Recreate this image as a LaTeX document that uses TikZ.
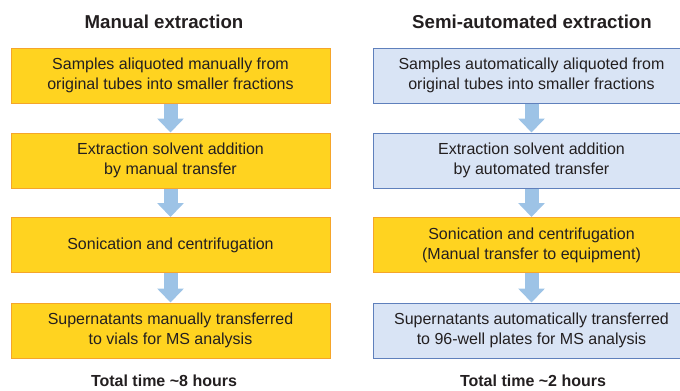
\documentclass[tikz,border=0pt]{standalone}
\usepackage{fontspec}
\setmainfont{Liberation Sans}
\usepackage{tikz}
\usetikzlibrary{arrows.meta, positioning}
\definecolor{manfill}{HTML}{FFD320}
\definecolor{manline}{HTML}{F5A52A}
\definecolor{autofill}{HTML}{D9E4F5}
\definecolor{autoline}{HTML}{5F80BC}
\definecolor{arrowfill}{HTML}{9DC3E6}
\definecolor{txt}{HTML}{231F20}
\tikzset{
  manblk/.style = {rectangle, draw=manline, fill=manfill, line width=0.75pt,
                   align=center, text=txt, font=\fontsize{12}{15}\selectfont,
                   minimum width=239.25pt, minimum height=41.25pt, inner sep=2pt},
  autoblk/.style= {rectangle, draw=autoline, fill=autofill, line width=0.75pt,
                   align=center, text=txt, font=\fontsize{12}{15}\selectfont,
                   minimum width=237.75pt, minimum height=41.25pt, inner sep=2pt},
  hdr/.style    = {font=\fontsize{14}{16}\selectfont\bfseries, text=txt},
  total/.style  = {font=\fontsize{12}{14}\selectfont\bfseries, text=txt},
  flow/.style   = {draw=arrowfill, line width=10.5pt,
                   -{Triangle[width=19.5pt, length=10.5pt]}},
}
\begin{document}
\begin{tikzpicture}[x=0.75pt, y=-0.75pt]
    \useasboundingbox (0,0) rectangle (680,390);
    % headings
    \node[hdr] (hl) at (164,22)  {Manual extraction};
    \node[hdr] (hr) at (532,22)  {Semi-automated extraction};
    % manual column
    \node[manblk] (l1) at (170.5,75.5)  {Samples aliquoted manually from\\original tubes into smaller fractions};
    \node[manblk] (l2) at (170.5,160.5) {Extraction solvent addition\\by manual transfer};
    \node[manblk] (l3) at (170.5,245)   {Sonication and centrifugation};
    \node[manblk] (l4) at (170.5,330.5) {Supernatants manually transferred\\to vials for MS analysis};
    % semi-automated column
    \node[autoblk] (r1) at (531.5,75.5)  {Samples automatically aliquoted from\\original tubes into smaller fractions};
    \node[autoblk] (r2) at (531.5,160.5) {Extraction solvent addition\\by automated transfer};
    \node[manblk, minimum width=237.75pt] (r3) at (531.5,245) {Sonication and centrifugation\\(Manual transfer to equipment)};
    \node[autoblk] (r4) at (531.5,330.5) {Supernatants automatically transferred\\to 96-well plates for MS analysis};
    \foreach \x/\y in {l1/l2, l2/l3, l3/l4, r1/r2, r2/r3, r3/r4}{\draw[flow] (\x) -- (\y);}
    % totals
    \node[total] (tl) at (164,381) {Total time \textasciitilde8 hours};
    \node[total] (tr) at (533,381) {Total time \textasciitilde2 hours};
\end{tikzpicture}
\end{document}
